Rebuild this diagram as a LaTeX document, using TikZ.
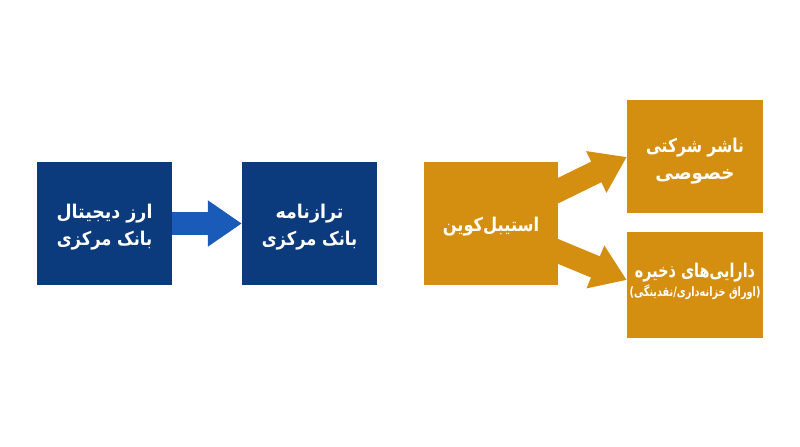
\documentclass[tikz,border=0pt]{standalone}
\usepackage{fontspec}
\usepackage{graphicx}
\usetikzlibrary{arrows.meta,calc,backgrounds}
\TeXXeTstate=1
\newfontfamily\fa[Script=Arabic]{DejaVu Sans}
\newfontfamily\lat{DejaVu Sans}
\definecolor{navy}{HTML}{0B3B7D}
\definecolor{arrowblue}{HTML}{1A5AB8}
\definecolor{gold}{HTML}{D58F10}
\tikzset{
  box/.style={minimum width=135bp, minimum height=123bp, inner sep=0pt},
  boxtext/.style={inner sep=0pt, align=center, text=white, yshift=-4bp,
    font=\fa\bfseries\fontsize{19}{27}\selectfont},
  bluebox/.style={box, fill=navy},
  goldbox/.style={box, fill=gold},
  fatarrow/.style={line width=23bp, -{Triangle[length=34bp,width=44bp]}},
}
\begin{document}
\begin{tikzpicture}[x=1bp,y=-1bp]
\useasboundingbox (0,0) rectangle (800,447);
\node[bluebox, label={[boxtext]center:{\scalebox{0.92}[1]{\beginR ارز دیجیتال\endR}\\\scalebox{0.86}[1]{\beginR بانک مرکزی\endR}}}] (A) at (104.5,223.5) {};
\node[bluebox, label={[boxtext]center:{\scalebox{0.92}[1]{\beginR ترازنامه\endR}\\\scalebox{0.86}[1]{\beginR بانک مرکزی\endR}}}] (B) at (309.5,223.5) {};
\node[goldbox, minimum width=134bp, label={[boxtext, yshift=1bp]center:{\scalebox{0.86}[1]{\beginR استیبل‌کوین\endR}}}] (S) at (491,223.5) {};
\node[goldbox, minimum width=136bp, minimum height=113bp,
  label={[boxtext]center:{\scalebox{0.82}[1]{\beginR ناشر شرکتی\endR}\\\scalebox{0.97}[1]{\beginR خصوصی\endR}}}] (T1) at (695,157) {};
\node[goldbox, minimum width=136bp, minimum height=106bp,
  label={[boxtext, yshift=8bp]center:{\scalebox{0.76}[1]{\beginR دارایی‌های ذخیره\endR}\\[-8bp]
   {\fontsize{13}{16}\selectfont\scalebox{0.75}[1]{{\lat(}\beginR اوراق خزانه‌داری\kern0pt/\kern0pt نقدینگی\endR{\lat)}}}}}] (T2) at (695,285) {};
\coordinate (T2tip) at ($(T2.west)+(0,-5)$);
\begin{scope}[on background layer]
\fill[white] (0,0) rectangle (800,447);
\draw[fatarrow, draw=arrowblue, fill=arrowblue] (A.center) -- (B.west);
\draw[fatarrow, draw=gold, fill=gold] (S.center) -- (T1.west);
\draw[fatarrow, draw=gold, fill=gold] (S.center) -- (T2tip);
\end{scope}
\end{tikzpicture}
\end{document}
